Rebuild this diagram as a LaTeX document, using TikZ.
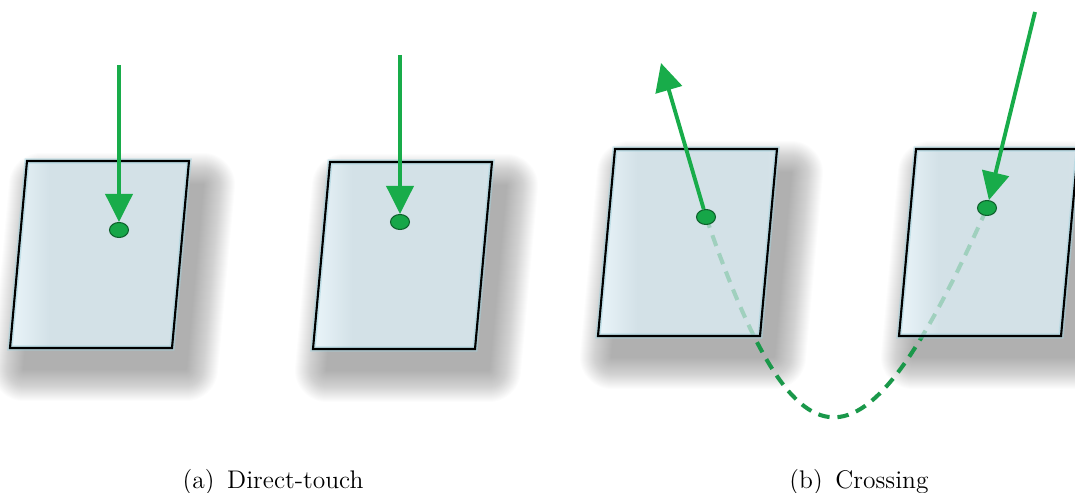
\documentclass[tikz,border=0pt]{standalone}
\usepackage{tikz}
\usetikzlibrary{arrows.meta, shapes.geometric}

\definecolor{touchgreen}{RGB}{24,172,74}
\definecolor{dotgreen}{RGB}{22,166,72}
\definecolor{dotrim}{RGB}{14,96,44}
\definecolor{pathgreen}{RGB}{26,152,74}
\definecolor{fadegreen}{RGB}{160,208,190}
\definecolor{panelfill}{RGB}{211,225,231}
\definecolor{panellight}{RGB}{232,243,248}
\definecolor{panelglow}{RGB}{160,210,222}

\pgfdeclarehorizontalshading{panelshade}{100bp}{
    color(0bp)=(panellight); color(26bp)=(panellight);
    color(36bp)=(panelfill); color(72bp)=(panelfill);
    color(75bp)=(panelfill!85!panellight); color(100bp)=(panelfill!85!panellight)}

\begin{document}
\begin{tikzpicture}[x=0.02cm, y=-0.02cm,
    touch/.style={line width=2.2pt, touchgreen, -{Triangle[length=5.6mm, width=5.4mm]}},
    contact/.style={ellipse, draw=dotrim, line width=0.6pt, fill=dotgreen,
        minimum width=3.8mm, minimum height=3mm, inner sep=0pt},
    trail/.style={line width=2.3pt, dash pattern=on 6.5pt off 4.5pt},
    panelborder/.style={line width=1.2pt, line join=miter},
    caption/.style={anchor=base, font=\fontsize{14.5}{17}\selectfont}]

    \useasboundingbox (0,0) rectangle (1075,493);

    % --- Soft shadows under the four panels ---
    \foreach \px/\py in {27/161, 330/162, 615/149, 916/149} {
        \foreach \w in {64,62,...,2} {
            \begin{scope}[transparency group, opacity=0.013]
                \filldraw[black, line width=\w*0.2mm, line join=round]
                    (\px+14,\py+24) -- ++(162,0) -- ++(-17,184) -- ++(-162,0) -- cycle;
            \end{scope}
        }
    }

    % Contact points
    \coordinate (c1) at (119,230);
    \coordinate (c2) at (400,222);
    \coordinate (c3) at (706,217);
    \coordinate (c4) at (987,208);

    % --- Crossing trail, passing behind the panels ---
    \draw[trail, pathgreen] (c3) .. controls (800,490) and (865,481) .. (c4);

    % --- Panels ---
    \foreach \px/\py in {27/161, 330/162, 615/149, 916/149} {
        \shade[shading=panelshade]
            (\px,\py) -- ++(162,0) -- ++(-17,187) -- ++(-162,0) -- cycle;
    }

    % Faded part of the trail seen through the panels
    \begin{scope}
        \clip (615,149) -- ++(162,0) -- ++(-17,187) -- ++(-162,0) -- cycle
              (916,149) -- ++(162,0) -- ++(-17,187) -- ++(-162,0) -- cycle;
        \draw[trail, fadegreen] (c3) .. controls (800,490) and (865,481) .. (c4);
    \end{scope}

    \foreach \px/\py in {27/161, 330/162, 615/149, 916/149} {
        \draw[panelglow, line width=3pt, opacity=0.5]
            (\px,\py) -- ++(162,0) -- ++(-17,187) -- ++(-162,0) -- cycle;
        \draw[panelborder]
            (\px,\py) -- ++(162,0) -- ++(-17,187) -- ++(-162,0) -- cycle;
    }

    % --- Dots and finger strokes ---
    \node[contact] (d1) at (c1) {};
    \node[contact] (d2) at (c2) {};
    \node[contact] (d3) at (c3) {};
    \node[contact] (d4) at (c4) {};

    \coordinate (s1) at (119,65);
    \coordinate (s2) at (400,55);
    \coordinate (t3) at (661,63);
    \coordinate (s4) at (1035,12);

    \draw[touch] (s1) -- (d1);
    \draw[touch] (s2) -- (d2);
    \draw[touch] (d3) -- (t3);
    \draw[touch] (s4) -- (d4);

    % Captions
    \node[caption] (capa) at (273,488) {(a)\enspace Direct-touch};
    \node[caption] (capb) at (859,488) {(b)\enspace Crossing};

\end{tikzpicture}
\end{document}
